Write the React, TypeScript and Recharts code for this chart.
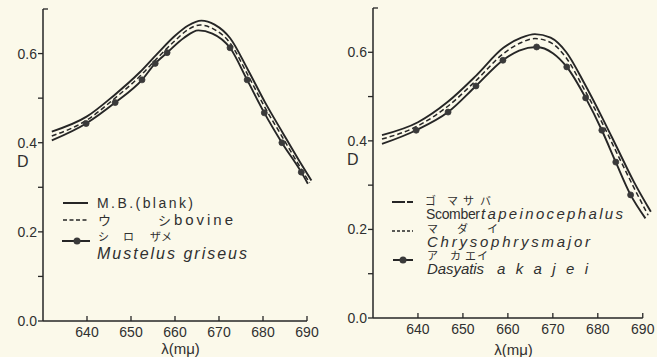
import React from 'react';
import { ComposedChart, Line, XAxis, YAxis, ReferenceLine, Legend } from 'recharts';

const INK = '#262626';
const TEXT = '#303030';
const PAPER = '#fbf9ea';
const SANS = '"Liberation Sans", Arial, sans-serif';
const JP = '"Noto Sans CJK JP", sans-serif';

// axes
const X_TICKS = [640, 650, 660, 670, 680, 690];
const Y_TICKS = [0, 0.1, 0.2, 0.3, 0.4, 0.5, 0.6, 0.7];
const Y_LABELLED = [0, 0.2, 0.4, 0.6];
const X_DOMAIN: [number, number] = [630, 692.5];
const Y_DOMAIN: [number, number] = [0, 0.7];

// ---- left panel ----
// M.B. (blank)
const blankWl = [632, 640, 646, 652, 656, 660, 663, 666, 669, 672.5, 676.5, 680.5, 684.5, 688.5, 691];
const blankD = [0.425, 0.459, 0.505, 0.558, 0.6, 0.64, 0.663, 0.674, 0.665, 0.635, 0.565, 0.49, 0.422, 0.355, 0.315];
// ウシ bovine
const bovineWl = [632, 640, 646, 652, 656, 660, 663, 665.7, 668.8, 672.5, 676.5, 680.5, 684.5, 688.5, 690.6];
const bovineD = [0.415, 0.451, 0.497, 0.549, 0.59, 0.629, 0.654, 0.664, 0.655, 0.624, 0.553, 0.478, 0.411, 0.344, 0.31];
// シロザメ Mustelus griseus (curve)
const musWl = [632, 639.8, 646.4, 652.5, 655.5, 658.2, 662, 665.3, 668.5, 672.5, 676.4, 680.3, 684.3, 688.7, 690.2];
const musD = [0.405, 0.443, 0.49, 0.541, 0.578, 0.602, 0.635, 0.652, 0.645, 0.613, 0.541, 0.467, 0.4, 0.334, 0.308];
// Mustelus measured points
const musPtWl = [639.8, 646.4, 652.5, 655.5, 658.2, 672.5, 676.4, 680.3, 684.3, 688.7];
const musPtD = [0.443, 0.49, 0.541, 0.578, 0.602, 0.613, 0.541, 0.467, 0.4, 0.334];

// ---- right panel ----
// ゴマサバ Scomber tapeinocephalus
const scoWl = [632, 640, 646.5, 653, 659, 663, 666, 669.5, 673, 677, 681, 684.5, 688, 691.8];
const scoD = [0.413, 0.442, 0.487, 0.548, 0.61, 0.633, 0.641, 0.633, 0.6, 0.53, 0.452, 0.38, 0.308, 0.24];
// マダイ Chrysophrys major
const chrWl = [632, 640, 646.5, 653, 659, 663, 666, 669.5, 673, 677, 681, 684.5, 688, 691.2];
const chrD = [0.404, 0.434, 0.477, 0.537, 0.597, 0.622, 0.631, 0.622, 0.587, 0.516, 0.44, 0.367, 0.295, 0.232];
// アカエイ Dasyatis akajei (curve)
const dasWl = [632, 639.6, 646.7, 652.9, 658.9, 662.5, 666.4, 670, 673.1, 677.3, 680.9, 684, 687.3, 690.6];
const dasD = [0.393, 0.424, 0.465, 0.524, 0.582, 0.604, 0.612, 0.598, 0.567, 0.497, 0.424, 0.352, 0.278, 0.225];
// Dasyatis measured points
const dasPtWl = [639.6, 646.7, 652.9, 658.9, 666.4, 673.1, 677.3, 680.9, 684, 687.3];
const dasPtD = [0.424, 0.465, 0.524, 0.582, 0.612, 0.567, 0.497, 0.424, 0.352, 0.278];

const pts = (wl: number[], d: number[]) => wl.map((x, i) => ({ x, y: d[i] }));

const near = (a: number, b: number) => Math.abs(a - b) < 1e-6;

const XTick = (props: any) => {
  const { x, y, payload } = props;
  return (
    <g>
      <line x1={x} x2={x} y1={y} y2={y - 5} stroke={INK} strokeWidth={1.3} />
      <text x={x} y={y + 16} textAnchor="middle" fontFamily={SANS} fontSize={14} fill={TEXT}>
        {payload.value}
      </text>
    </g>
  );
};

const YTick = (props: any) => {
  const { x, y, payload } = props;
  const v = payload.value as number;
  const top = near(v, 0.7);
  const labelled = Y_LABELLED.some((t) => near(t, v));
  return (
    <g>
      <line x1={x} x2={top ? x + 5 : x - 5} y1={y} y2={y} stroke={INK} strokeWidth={1.3} />
      {labelled && (
        <text x={x - 6} y={y + 5} textAnchor="end" fontFamily={SANS} fontSize={14} fill={TEXT}>
          {v.toFixed(1)}
        </text>
      )}
    </g>
  );
};

const DLabel = (props: any) => {
  const vb = props.viewBox || {};
  return (
    <text x={(vb.x || 0) + 17} y={(vb.y || 0) + vb.height / 2 + 2} fontFamily={SANS} fontSize={16} fill={TEXT}>
      D
    </text>
  );
};

const dotFilled = { r: 3, fill: '#3a3a3a', stroke: '#3a3a3a', strokeWidth: 0.8 };

const LeftLegend = () => (
  <svg width={330} height={357} style={{ position: 'absolute', left: 0, top: 0 }}>
    <line x1={63} x2={88} y1={203} y2={203} stroke={INK} strokeWidth={2} />
    <text x={97} y={208} fontFamily={SANS} fontSize={14} fill={TEXT} textLength={96} lengthAdjust="spacing">M.B.(blank)</text>
    <line x1={63} x2={88} y1={220} y2={220} stroke={INK} strokeWidth={1.5} strokeDasharray="4 2.5" />
    <text x={98} y={225} fontFamily={JP} fontSize={13} fill={TEXT}>ウ</text>
    <text x={158} y={225} fontFamily={JP} fontSize={13} fill={TEXT}>シ</text>
    <text x={174} y={225} fontFamily={SANS} fontSize={15} fill={TEXT} textLength={59} lengthAdjust="spacing">bovine</text>
    <line x1={62} x2={90} y1={241} y2={241} stroke={INK} strokeWidth={2} />
    <circle cx={77} cy={241} r={3.5} fill="#3a3a3a" />
    <text x={98} y={241} fontFamily={JP} fontSize={11} fill={TEXT}>シ</text>
    <text x={123} y={241} fontFamily={JP} fontSize={11} fill={TEXT}>ロ</text>
    <text x={150} y={241} fontFamily={JP} fontSize={11} fill={TEXT}>ザメ</text>
    <text x={97} y={259} fontFamily={SANS} fontStyle="italic" fontSize={16} fill={TEXT} textLength={150} lengthAdjust="spacing">Mustelus griseus</text>
  </svg>
);

const RightLegend = () => (
  <svg width={327} height={357} style={{ position: 'absolute', left: 0, top: 0 }}>
    <line x1={62} x2={75} y1={202} y2={202} stroke={INK} strokeWidth={2} />
    <line x1={77} x2={83} y1={202} y2={202} stroke={INK} strokeWidth={2} />
    <text x={95} y={205} fontFamily={JP} fontSize={11} fill={TEXT}>ゴ</text>
    <text x={117} y={205} fontFamily={JP} fontSize={11} fill={TEXT}>マ</text>
    <text x={133} y={205} fontFamily={JP} fontSize={11} fill={TEXT}>サ</text>
    <text x={150} y={205} fontFamily={JP} fontSize={11} fill={TEXT}>バ</text>
    <text x={96} y={219} fontFamily={SANS} fontSize={14} fill={TEXT} textLength={54} lengthAdjust="spacing">Scomber</text>
    <text x={151} y={219} fontFamily={SANS} fontStyle="italic" fontSize={15} fill={TEXT} textLength={142} lengthAdjust="spacing">tapeinocephalus</text>
    <line x1={62} x2={83} y1={231} y2={231} stroke={INK} strokeWidth={1.5} strokeDasharray="3 2" />
    <text x={97} y={233} fontFamily={JP} fontSize={11} fill={TEXT}>マ</text>
    <text x={127} y={233} fontFamily={JP} fontSize={11} fill={TEXT}>ダ</text>
    <text x={157} y={233} fontFamily={JP} fontSize={11} fill={TEXT}>イ</text>
    <text x={97} y={247} fontFamily={SANS} fontStyle="italic" fontSize={15} fill={TEXT} textLength={163} lengthAdjust="spacing">Chrysophrysmajor</text>
    <line x1={63} x2={83} y1={260} y2={260} stroke={INK} strokeWidth={2} />
    <circle cx={73} cy={260} r={3.5} fill="#3a3a3a" />
    <text x={97} y={260} fontFamily={JP} fontSize={11} fill={TEXT}>ア</text>
    <text x={120} y={260} fontFamily={JP} fontSize={11} fill={TEXT}>カ</text>
    <text x={135} y={260} fontFamily={JP} fontSize={11} fill={TEXT}>エ</text>
    <text x={147} y={260} fontFamily={JP} fontSize={11} fill={TEXT}>イ</text>
    <text x={97} y={274} fontFamily={SANS} fontStyle="italic" fontSize={15} fill={TEXT} textLength={57} lengthAdjust="spacing">Dasyatis</text>
    <text x={167} y={274} fontFamily={SANS} fontStyle="italic" fontSize={15} fill={TEXT} textLength={91} lengthAdjust="spacing">akajei</text>
  </svg>
);

type Series = { key: string; data: { x: number; y: number }[]; dash?: string; width: number };

const Panel = (p: {
  width: number;
  top: number;
  xAxisHeight: number;
  right: number;
  series: Series[];
  points: { x: number; y: number }[];
  legend: React.ReactElement;
  labelOffset: number;
}) => (
  <ComposedChart
    width={p.width}
    height={357}
    margin={{ top: p.top, right: p.right, bottom: 0, left: 0 }}
    style={{ background: 'transparent' }}
  >
    <XAxis
      dataKey="x"
      type="number"
      domain={X_DOMAIN}
      ticks={X_TICKS}
      allowDataOverflow
      axisLine={false}
      tickLine={false}
      tickSize={0}
      tickMargin={0}
      interval={0}
      height={p.xAxisHeight}
      tick={<XTick />}
      label={{ value: 'λ(mμ)', position: 'insideBottom', offset: p.labelOffset, fontFamily: SANS, fontSize: 15, fill: TEXT }}
    />
    <YAxis
      type="number"
      domain={Y_DOMAIN}
      ticks={Y_TICKS}
      allowDataOverflow
      width={43}
      stroke={INK}
      axisLine={{ stroke: INK, strokeWidth: 1.5 }}
      tickLine={false}
      tickSize={0}
      tickMargin={0}
      interval={0}
      tick={<YTick />}
      label={<DLabel />}
    />
    <ReferenceLine
      segment={[{ x: 630, y: 0 }, { x: 690, y: 0 }]}
      stroke={INK}
      strokeWidth={1.5}
      ifOverflow="visible"
    />
    {p.series.map((s) => (
      <Line
        key={s.key}
        data={s.data}
        dataKey="y"
        type="monotone"
        stroke={INK}
        strokeWidth={s.width}
        strokeDasharray={s.dash}
        dot={false}
        activeDot={false}
        isAnimationActive={false}
      />
    ))}
    <Line
      data={p.points}
      dataKey="y"
      stroke="none"
      dot={dotFilled}
      activeDot={false}
      isAnimationActive={false}
    />
    <Legend
      layout="vertical"
      align="center"
      verticalAlign="middle"
      wrapperStyle={{ left: 0, top: 0, width: p.width, height: 357, pointerEvents: 'none' }}
      content={() => p.legend}
    />
  </ComposedChart>
);

export default function App() {
  return (
    <div
      style={{
        position: 'fixed',
        left: 0,
        top: 0,
        width: 657,
        height: 357,
        background: PAPER,
        display: 'flex',
        overflow: 'hidden',
      }}
    >
      <Panel
        width={330}
        top={9}
        xAxisHeight={36}
        right={12}
        labelOffset={3}
        series={[
          { key: 'blank', data: pts(blankWl, blankD), width: 1.9 },
          { key: 'bovine', data: pts(bovineWl, bovineD), width: 1.5, dash: '5 3' },
          { key: 'mus', data: pts(musWl, musD), width: 1.9 },
        ]}
        points={pts(musPtWl, musPtD)}
        legend={<LeftLegend />}
      />
      <Panel
        width={327}
        top={8}
        xAxisHeight={39}
        right={3}
        labelOffset={2}
        series={[
          { key: 'sco', data: pts(scoWl, scoD), width: 1.9 },
          { key: 'chr', data: pts(chrWl, chrD), width: 1.5, dash: '5 3' },
          { key: 'das', data: pts(dasWl, dasD), width: 1.9 },
        ]}
        points={pts(dasPtWl, dasPtD)}
        legend={<RightLegend />}
      />
    </div>
  );
}
